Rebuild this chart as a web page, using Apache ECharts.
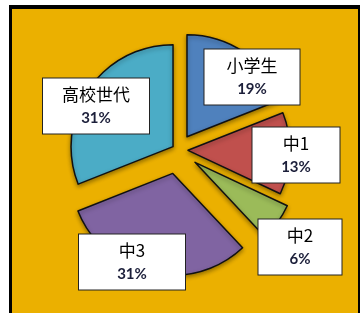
<!DOCTYPE html>
<html>
<head>
<meta charset="utf-8">
<script src="https://cdn.jsdelivr.net/npm/echarts@6/dist/echarts.min.js"></script>
<style>
  html, body { margin: 0; padding: 0; background: #fff; }
  #chart { width: 361px; height: 313px; }
</style>
</head>
<body>
<div id="chart"></div>
<script>
// data
const categories = ['小学生', '中1', '中2', '中3', '高校世代']
const shares = [19, 13, 6, 31, 31]

// look
const colors = ['#4F81BD', '#C0504D', '#9BBB59', '#8064A2', '#4BACC6']
const explode = [16, 10, 21, 24, 6] // how far each slice is pulled out
const labelBoxes = [ // [centerX, centerY, width]
  [252, 77, 95],
  [296, 155, 87],
  [300, 247, 83],
  [132, 262, 106],
  [96, 106, 106]
]
const CX = 178, CY = 150, R = 102

const chart = echarts.init(document.getElementById('chart'))

let cum = 0
const series = categories.map((name, i) => {
  const start = cum
  cum += shares[i]
  const mid = (start + shares[i] / 2) * 3.6 * Math.PI / 180
  const d = explode[i]
  const box = labelBoxes[i]
  return {
    type: 'pie',
    radius: R,
    center: [CX + d * Math.sin(mid), CY - d * Math.cos(mid)],
    startAngle: 90 - start * 3.6,
    clockwise: true,
    silent: true,
    animation: false,
    avoidLabelOverlap: false,
    labelLine: { show: false },
    itemStyle: {
      borderColor: '#111',
      borderWidth: 1.5,
      shadowBlur: 4,
      shadowColor: 'rgba(0,0,0,0.35)',
      shadowOffsetY: 2
    },
    label: {
      show: true,
      position: 'inside',
      width: box[2],
      align: 'center',
      backgroundColor: '#fff',
      borderColor: '#222',
      borderWidth: 1,
      padding: [4, 0, 4, 0],
      formatter: p => `{n|${p.name}}\n{p|${p.value}%}`,
      rich: {
        n: { fontFamily: 'Noto Sans CJK JP', fontSize: 17, color: '#000', lineHeight: 25, width: box[2], align: 'center' },
        p: { fontFamily: 'Lato', fontWeight: 'bold', fontSize: 15, color: '#1c1f3a', lineHeight: 22, width: box[2], align: 'center' }
      }
    },
    labelLayout: p => p.dataIndex === 0
      ? { x: box[0], y: box[1], align: 'center', verticalAlign: 'middle' }
      : {},
    data: [
      { name, value: shares[i], itemStyle: { color: colors[i] } },
      {
        name: '',
        value: 100 - shares[i],
        itemStyle: { color: 'transparent', borderWidth: 0, shadowBlur: 0, shadowColor: 'transparent' },
        label: { show: false }
      }
    ]
  }
})

chart.setOption({
  animation: false,
  graphic: [
    { type: 'rect', z: -10, shape: { x: 9, y: 5, width: 351, height: 320 }, style: { fill: '#000' } },
    { type: 'rect', z: -9, shape: { x: 12, y: 9, width: 346, height: 320 }, style: { fill: '#EBB000' } }
  ],
  series
})
</script>
</body>
</html>
